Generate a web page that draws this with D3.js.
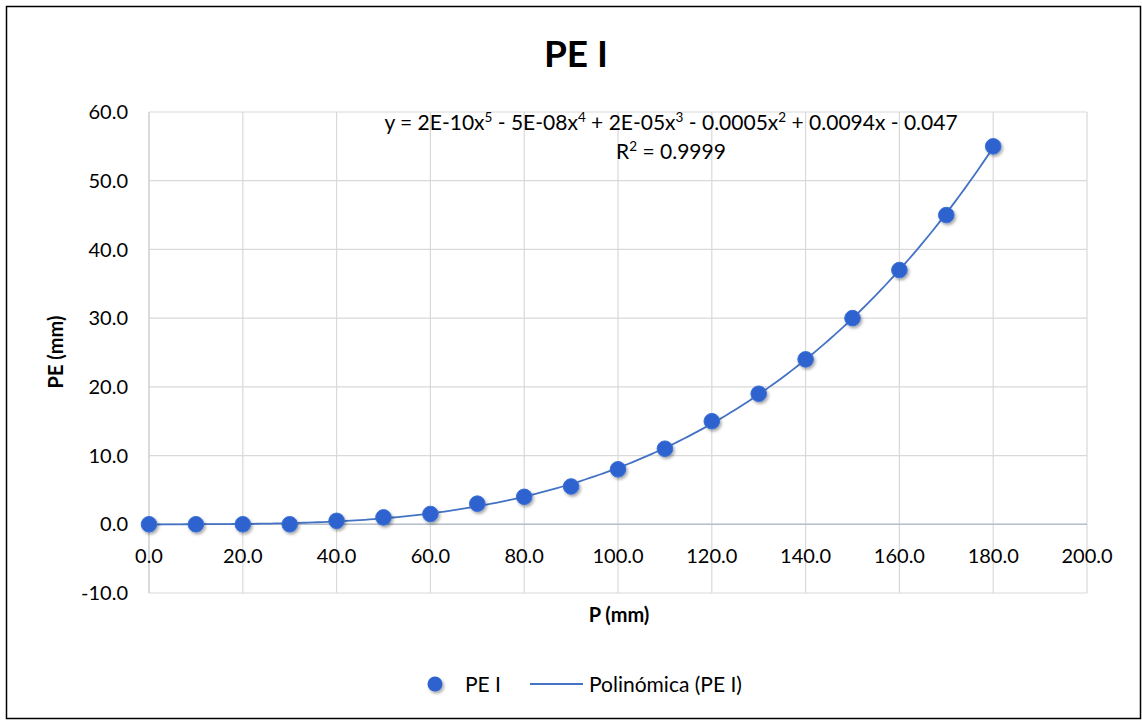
<!DOCTYPE html>
<html><head><meta charset="utf-8">
<script src="https://cdn.jsdelivr.net/npm/d3@7"></script>
<style>body{margin:0;background:#fff;} text{font-family:Lato, "Open Sans", sans-serif;}</style>
</head><body>
<svg id="c" width="1142" height="720"></svg>
<script>
const xValues = [0,10,20,30,40,50,60,70,80,90,100,110,120,130,140,150,160,170,180];
const peValues = [0,0,0,0,0.5,1.0,1.5,3.0,4.0,5.5,8.0,11.0,15.0,19.0,24.0,30.0,37.0,45.0,55.0];
const xTicks = [0,20,40,60,80,100,120,140,160,180,200];
const yTicks = [-10,0,10,20,30,40,50,60];
const titleText = "PE I";
const seriesName = "PE I";
const trendName = "Polinómica (PE I)";
// equation pieces: [text, isSuperscript]
const eqParts = [["y = 2E-10x",0],["5",1],[" - 5E-08x",0],["4",1],[" + 2E-05x",0],["3",1],[" - 0.0005x",0],["2",1],[" + 0.0094x - 0.047",0]];
const r2Parts = [["R",0],["2",1],[" = 0.9999",0]];

const svg = d3.select("#c");
svg.append("rect").attr("x",6.5).attr("y",6.5).attr("width",1134).attr("height",712).attr("fill","#fff").attr("stroke","#000").attr("stroke-width",1.5);

const x = d3.scaleLinear().domain([0,200]).range([149,1087]);
const y = d3.scaleLinear().domain([-10,60]).range([593,112]);

const defs = svg.append("defs");
const f = defs.append("filter").attr("id","sh").attr("x","-50%").attr("y","-50%").attr("width","200%").attr("height","200%");
f.append("feDropShadow").attr("dx",1.5).attr("dy",2).attr("stdDeviation",1.8).attr("flood-color","#000").attr("flood-opacity",0.35);

// gridlines
const g = svg.append("g");
g.selectAll(".hg").data(yTicks).join("line").attr("x1",149).attr("x2",1087).attr("y1",d=>y(d)).attr("y2",d=>y(d)).attr("stroke","#d9d9d9").attr("stroke-width",1.2);
g.selectAll(".vg").data(xTicks).join("line").attr("y1",112).attr("y2",593).attr("x1",d=>x(d)).attr("x2",d=>x(d)).attr("stroke","#d9d9d9").attr("stroke-width",1.2);
svg.append("line").attr("x1",149).attr("x2",1087).attr("y1",y(0)).attr("y2",y(0)).attr("stroke","#b8bfcc").attr("stroke-width",1.4);
svg.append("line").attr("x1",149).attr("x2",149).attr("y1",112).attr("y2",593).attr("stroke","#ccd0d8").attr("stroke-width",1.2);

// tick labels
const fmt = v => d3.format(".1f")(v).replace("−","-");
svg.selectAll(".yl").data(yTicks).join("text").attr("x",128).attr("y",d=>y(d)).attr("dy","0.36em").attr("text-anchor","end").attr("font-size",20).attr("fill","#000").text(d=>fmt(d));
svg.selectAll(".xl").data(xTicks).join("text").attr("x",d=>x(d)).attr("y",556).attr("dy","0.36em").attr("text-anchor","middle").attr("font-size",20).attr("fill","#000").text(d=>fmt(d));

// titles
svg.append("text").attr("x",576).attr("y",67).attr("text-anchor","middle").attr("font-size",37).attr("font-weight","bold").text(titleText);
svg.append("text").attr("x",619).attr("y",622).attr("text-anchor","middle").attr("font-size",20).attr("font-weight","bold").text("P (mm)");
svg.append("text").attr("transform","translate(63,352) rotate(-90)").attr("text-anchor","middle").attr("font-size",20).attr("font-weight","bold").text("PE (mm)");

// polynomial fit degree 5 (least squares)
function polyfit(xs, ys, deg){
  const s = 100;
  const n = deg+1;
  const A = Array.from({length:n},()=>Array(n+1).fill(0));
  xs.forEach((xv,i)=>{
    const t = xv/s;
    const p = []; for(let k=0;k<2*n;k++) p.push(Math.pow(t,k));
    for(let r=0;r<n;r++){ for(let c=0;c<n;c++) A[r][c]+=p[r+c]; A[r][n]+=ys[i]*p[r]; }
  });
  for(let i=0;i<n;i++){
    let m=i; for(let r=i+1;r<n;r++) if(Math.abs(A[r][i])>Math.abs(A[m][i])) m=r;
    [A[i],A[m]]=[A[m],A[i]];
    for(let r=0;r<n;r++){ if(r===i) continue; const fct=A[r][i]/A[i][i]; for(let c=i;c<=n;c++) A[r][c]-=fct*A[i][c]; }
  }
  const co = A.map((row,i)=>row[n]/row[i]);
  return xv=>{ const t=xv/s; let v=0; for(let k=n-1;k>=0;k--) v=v*t+co[k]; return v; };
}
const fit = polyfit(xValues, peValues, 5);
const curve = d3.range(0,180.01,1).map(v=>[v,fit(v)]);
svg.append("path").attr("d",d3.line().x(d=>x(d[0])).y(d=>y(d[1]))(curve)).attr("fill","none").attr("stroke","#4472c4").attr("stroke-width",1.8);

// points
svg.selectAll(".pt").data(xValues).join("circle").attr("cx",d=>x(d)).attr("cy",(d,i)=>y(peValues[i])).attr("r",7.8).attr("fill","#2d62cf").attr("stroke","#3a6fd6").attr("stroke-width",1).attr("filter","url(#sh)");

// equation
function richText(parts, cx, cy){
  const t = svg.append("text").attr("x",cx).attr("y",cy).attr("text-anchor","middle").attr("font-size",21);
  parts.forEach(([s,sup])=>{
    const ts = t.append("tspan").text(s);
    if(sup) ts.attr("font-size",13.5).attr("baseline-shift","55%");
  });
}
richText(eqParts, 671, 130);
richText(r2Parts, 671, 159);

// legend
svg.append("circle").attr("cx",435).attr("cy",684).attr("r",7.5).attr("fill","#2d62cf").attr("filter","url(#sh)");
svg.append("text").attr("x",465).attr("y",684).attr("dy","0.36em").attr("font-size",21).text(seriesName);
svg.append("line").attr("x1",530).attr("x2",583).attr("y1",684).attr("y2",684).attr("stroke","#4472c4").attr("stroke-width",1.8);
svg.append("text").attr("x",589).attr("y",684).attr("dy","0.36em").attr("font-size",21).text(trendName);
</script>
</body></html>
